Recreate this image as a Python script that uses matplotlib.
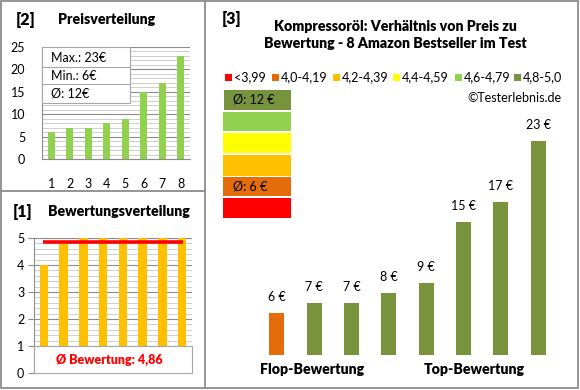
import matplotlib
matplotlib.use("Agg")
import matplotlib.pyplot as plt
from matplotlib.patches import Rectangle
from matplotlib.ticker import MultipleLocator

# ---------------- data ----------------
products = [1, 2, 3, 4, 5, 6, 7, 8]
prices = [6, 7, 7, 8, 9, 15, 17, 23]
ratings = [4.0, 4.9, 5.0, 5.0, 5.0, 5.0, 5.0, 5.0]
avg_rating_text = "Ø Bewertung: 4,86"
price_info = ["Max.: 23€", "Min.: 6€", "Ø: 12€"]
legend_labels = ["<3,99", "4,0-4,19", "4,2-4,39", "4,4-4,59", "4,6-4,79", "4,8-5,0"]
legend_colors = ["#FF0000", "#E46C0A", "#FFC000", "#FFFF00", "#92D050", "#77933C"]
bin_lower = [0.0, 4.0, 4.2, 4.4, 4.6, 4.8]
group_avg_labels = {5: "Ø: 12 €", 1: "Ø: 6 €"}
title3 = "Kompressoröl: Verhältnis von Preis zu\nBewertung - 8 Amazon Bestseller im Test"

FONT = "Lato"
plt.rcParams["font.family"] = [FONT, "DejaVu Sans"]
BOLD = "heavy"
SMALL = 9
TSIZE = 10.2

W, H = 580, 390
fig = plt.figure(figsize=(W / 100, H / 100), dpi=100)
fig.patch.set_facecolor("white")


def ax_px(left, top, right, bottom, **kw):
    return fig.add_axes([left / W, 1 - bottom / H, (right - left) / W, (bottom - top) / H], **kw)


def color_for(r):
    idx = 0
    for i, lo in enumerate(bin_lower):
        if r >= lo - 1e-9:
            idx = i
    return legend_colors[idx]


GRID_MAJ = "#8C8C8C"
GRID_MIN = "#C8C8C8"
SPINE = "#8C8C8C"

# ---------------- panel [2] Preisverteilung ----------------
ax2 = ax_px(42, 47, 190, 159)
x = list(range(len(products)))
ax2.bar(x, prices, width=0.38, color="#92D050", zorder=3)
ax2.set_xlim(-0.5, len(products) - 0.5)
ax2.set_ylim(0, 25)
ax2.yaxis.set_major_locator(MultipleLocator(5))
ax2.yaxis.set_minor_locator(MultipleLocator(1))
ax2.grid(axis="y", which="major", color=GRID_MAJ, lw=0.8, zorder=0)
ax2.grid(axis="y", which="minor", color=GRID_MIN, lw=0.6, zorder=0)
ax2.set_axisbelow(True)
ax2.set_xticks(x)
ax2.set_xticklabels([str(p) for p in products], fontsize=SMALL)
ax2.tick_params(axis="x", length=0, pad=14)
ax2.tick_params(axis="y", which="both", length=0, pad=12, labelsize=SMALL)
for s in ["top", "right"]:
    ax2.spines[s].set_visible(False)
for s in ["left", "bottom"]:
    ax2.spines[s].set_color(SPINE)

# ---------------- panel [1] Bewertungsverteilung ----------------
ax1 = ax_px(34, 238, 192, 373)
ax1.bar(x, ratings, width=0.42, color="#FFC000", zorder=3)
ax1.set_xlim(-0.5, len(products) - 0.5)
ax1.set_ylim(0, 5)
ax1.yaxis.set_major_locator(MultipleLocator(1))
ax1.yaxis.set_minor_locator(MultipleLocator(0.2))
ax1.grid(axis="y", which="major", color=GRID_MAJ, lw=0.8, zorder=0)
ax1.grid(axis="y", which="minor", color=GRID_MIN, lw=0.6, zorder=0)
ax1.set_axisbelow(True)
ax1.set_xticks([])
ax1.tick_params(axis="y", which="major", length=4, color=SPINE, pad=3, labelsize=SMALL)
ax1.tick_params(axis="y", which="minor", length=0)
avg_r = sum(ratings) / len(ratings)
ax1.plot([-0.05, len(products) - 0.95], [avg_r, avg_r], color="#FF0000", lw=2.6, zorder=4,
         solid_capstyle="butt")
for s in ["top", "right", "bottom"]:
    ax1.spines[s].set_visible(False)
ax1.spines["left"].set_color(SPINE)
ax1.add_patch(Rectangle((-0.5, 0), len(products), 1, facecolor="white", edgecolor="#A6A6A6",
                        lw=0.8, zorder=5, clip_on=False))
ax1.text((len(products) - 1) / 2 - 0.2, 0.5, avg_rating_text, color="#FF0000", fontsize=9,
         fontweight=BOLD, ha="center", va="center", zorder=6)

# ---------------- panel [3] main chart ----------------
ax3 = ax_px(258, 90, 557, 355)
bar_colors = [color_for(r) for r in ratings]
ax3.bar(x, prices, width=0.4, color=bar_colors, zorder=3)
ax3.set_xlim(-0.5, len(products) - 0.5)
ax3.set_ylim(1.86, 28)
for xi, p in zip(x, prices):
    ax3.annotate(f"{p} €", (xi, p), xytext=(0, 7), textcoords="offset points",
                 ha="center", va="bottom", fontsize=SMALL)
ax3.axis("off")

# ---------------- overlay (pixel coordinates) ----------------
ov = fig.add_axes([0, 0, 1, 1], zorder=10)
ov.set_xlim(0, W)
ov.set_ylim(H, 0)
ov.axis("off")
ov.patch.set_alpha(0)

BORDER = "#8C8C8C"
ov.add_patch(Rectangle((1, 1), 577, 387, fill=False, edgecolor=BORDER, lw=1.3))
ov.plot([205, 205], [1, 388], color=BORDER, lw=1.3)
ov.plot([1, 205], [191, 191], color=BORDER, lw=1.3)

# panel titles
ov.text(16, 20, "[2]", fontsize=11.5, fontweight=BOLD, va="center", ha="left")
ov.text(58, 20, "Preisverteilung", fontsize=TSIZE, fontweight=BOLD, va="center", ha="left")
ov.text(13, 212, "[1]", fontsize=11.5, fontweight=BOLD, va="center", ha="left")
ov.text(48, 212, "Bewertungsverteilung", fontsize=TSIZE, fontweight=BOLD, va="center", ha="left")
ov.text(222, 19, "[3]", fontsize=11.5, fontweight=BOLD, va="center", ha="left")
ov.text(395, 35, title3, fontsize=TSIZE, fontweight=BOLD, va="center", ha="center",
        linespacing=1.35)

# price info box
ov.add_patch(Rectangle((42, 47), 88, 56, facecolor="white", edgecolor="#A6A6A6", lw=0.8))
ov.plot([42, 130], [67, 67], color="#A6A6A6", lw=0.8)
ov.plot([42, 130], [84, 84], color="#A6A6A6", lw=0.8)
for yy, t in zip([58, 76, 94], price_info):
    ov.text(51, yy, t, fontsize=SMALL, va="center", ha="left")

# legend
sq_x = [225, 272, 333, 393, 455, 514]
for sx, lab, col in zip(sq_x, legend_labels, legend_colors):
    ov.add_patch(Rectangle((sx, 73.5), 7, 7, facecolor=col, edgecolor="none"))
    ov.text(sx + 9, 77, lab, fontsize=SMALL, va="center", ha="left")
ov.text(562, 98, "©Testerlebnis.de", fontsize=SMALL, va="center", ha="right")

# colour boxes (top to bottom: best to worst)
box_rows = [(90, 110), (112, 131), (133, 153), (155, 176), (177, 196), (198, 218)]
for i, (y0, y1) in enumerate(box_rows):
    cat = len(legend_colors) - 1 - i
    x0 = 224 if i == 0 else 223
    x1 = 291
    ov.add_patch(Rectangle((x0, y0), x1 - x0, y1 - y0, facecolor=legend_colors[cat],
                           edgecolor="none"))
    if cat in group_avg_labels:
        ov.text(233, (y0 + y1) / 2, group_avg_labels[cat], fontsize=SMALL, va="center", ha="left")

# bottom category labels
ov.text(312, 370, "Flop-Bewertung", fontsize=TSIZE, fontweight=BOLD, va="center", ha="center")
ov.text(474, 370, "Top-Bewertung", fontsize=TSIZE, fontweight=BOLD, va="center", ha="center")

fig.savefig("out.png", dpi=100, facecolor="white")
